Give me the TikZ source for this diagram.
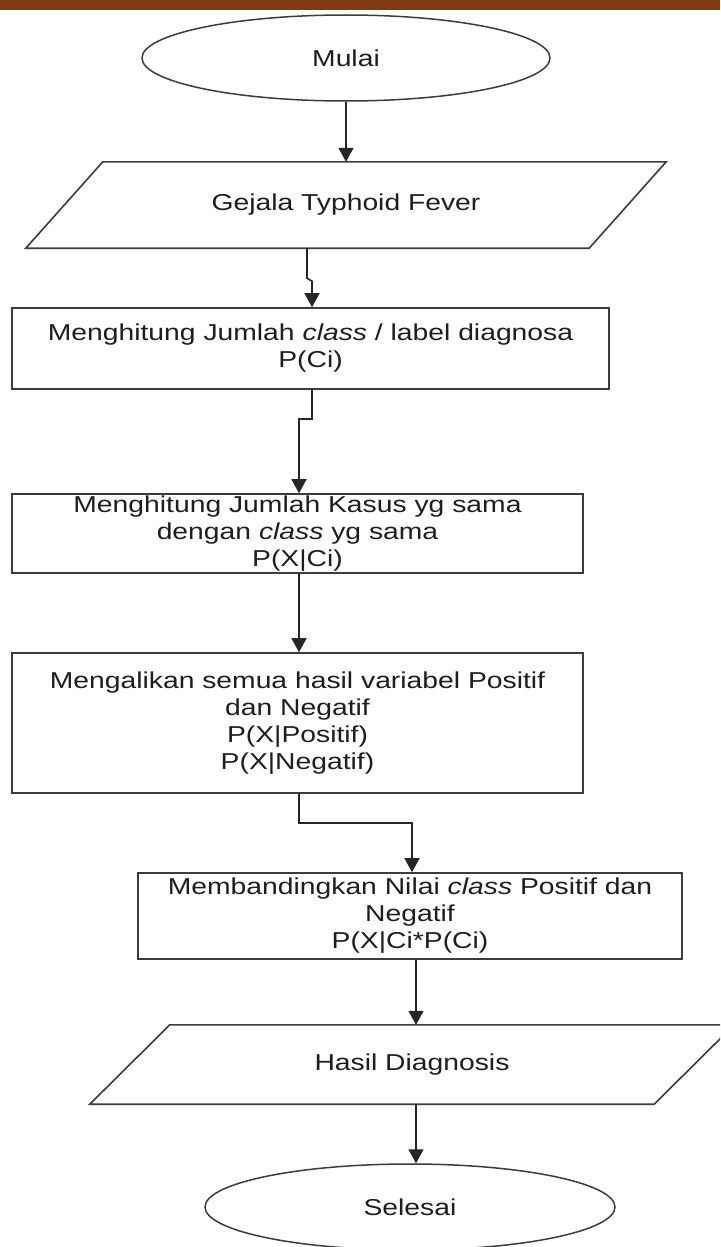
\documentclass[tikz,border=0pt]{standalone}
\usepackage{fontspec}
\setmainfont{Liberation Sans}[FakeStretch=1.23]
\usetikzlibrary{shapes.geometric,arrows.meta}
\definecolor{barbrown}{RGB}{128,57,16}
\definecolor{inktext}{RGB}{30,30,30}
\definecolor{inkline}{RGB}{60,60,60}
\begin{document}
\begin{tikzpicture}[x=1pt,y=-1pt,
  txt/.style={font=\fontsize{23}{27}\selectfont, text=inktext, align=center, inner sep=0pt},
  procbox/.style={txt, draw=inkline, line width=1.6pt, rectangle},
  term/.style={txt, draw=inkline, line width=1.5pt, ellipse, minimum width=408pt, minimum height=86pt},
  iobox/.style={txt, rectangle, draw=none},
  para/.style={draw=inkline, line width=1.6pt},
  arr/.style={draw=black!85, line width=1.6pt, -{Triangle[length=14pt,width=15pt]}}]
\useasboundingbox (0,0) rectangle (720,1247);
\clip (0,0) rectangle (720,1247);
\fill[white] (0,0) rectangle (720,1247);
\fill[barbrown] (0,0) rectangle (720,10);

\node[term] (mulai) at (346,58) {Mulai};

\node[iobox, minimum width=563pt, minimum height=86pt] (g) at (346,205) {Gejala Typhoid Fever};
\draw[para] ([xshift=38.5pt]g.north west) -- ([xshift=38.5pt]g.north east) -- ([xshift=-38.5pt]g.south east) -- ([xshift=-38.5pt]g.south west) -- cycle;

\node[procbox, minimum width=597pt, minimum height=81pt] (b1) at (310.5,348.5)
  {Menghitung Jumlah \textit{class} / label diagnosa\\P(Ci)};
\node[procbox, minimum width=571pt, minimum height=79pt] (b2) at (297.5,533.5)
  {Menghitung Jumlah Kasus yg sama\\dengan \textit{class} yg sama\\P(X|Ci)};
\node[procbox, minimum width=571pt, minimum height=140pt] (b3) at (297.5,723)
  {Mengalikan semua hasil variabel Positif\\dan Negatif\\P(X|Positif)\\P(X|Negatif)};
\node[procbox, minimum width=544pt, minimum height=86pt] (b4) at (410,916)
  {Membandingkan Nilai \textit{class} Positif dan\\Negatif\\P(X|Ci*P(Ci)};

\node[iobox, minimum width=564pt, minimum height=79pt] (h) at (412,1064.5) {Hasil Diagnosis};
\draw[para] ([xshift=40pt]h.north west) -- ([xshift=40pt]h.north east) -- ([xshift=-40pt]h.south east) -- ([xshift=-40pt]h.south west) -- cycle;

\node[term, minimum width=410pt, minimum height=86pt] (sel) at (410,1207) {Selesai};

\draw[arr] (mulai.south) -- (mulai.south |- g.north);
\draw[arr] ([xshift=-39pt]g.south) -- ++(0,30) -- ++(5,3) -- ([xshift=1.5pt]b1.north);
\draw[arr] ([xshift=1.5pt]b1.south) -- ++(0,29) -| ([xshift=1.5pt]b2.north);
\draw[arr] ([xshift=1.5pt]b2.south) -- ([xshift=1.5pt]b3.north);
\draw[arr] ([xshift=1.5pt]b3.south) -- ++(0,29) -| ([xshift=2pt]b4.north);
\draw[arr] ([xshift=6pt]b4.south) -- ([xshift=4pt]h.north);
\draw[arr] ([xshift=4pt]h.south) -- ([xshift=4pt]h.south |- sel.north);
\end{tikzpicture}
\end{document}
